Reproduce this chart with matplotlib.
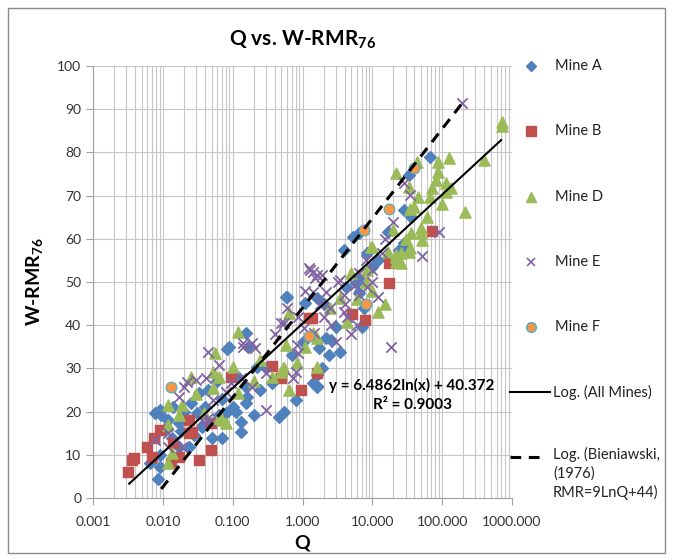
import numpy as np
import matplotlib
matplotlib.use("Agg")
import matplotlib.pyplot as plt
from matplotlib.lines import Line2D
from matplotlib.patches import Rectangle
from matplotlib.ticker import FixedLocator, FuncFormatter, LogLocator, NullFormatter

plt.rcParams["font.family"] = ["Lato", "DejaVu Sans"]
plt.rcParams["mathtext.fontset"] = "custom"
plt.rcParams["mathtext.rm"] = "Lato"
plt.rcParams["mathtext.bf"] = "Lato:bold"

# Data (Q, W-RMR76)
mine_a_q = [0.0085, 0.009, 0.009, 0.0065, 0.0076, 0.009, 0.0095, 0.011, 0.012, 0.0137, 0.017, 0.017,
            0.02, 0.024, 0.025, 0.028, 0.031, 0.036, 0.033, 0.045, 0.05, 0.06, 0.064, 0.071, 0.08,
            0.1, 0.12, 0.133, 0.133, 0.15, 0.157, 0.16, 0.084, 0.165, 0.157, 0.09, 0.22, 0.25, 0.3,
            0.36, 0.2, 0.46, 0.54, 0.7, 0.8, 1.0, 1.6, 1.6, 1.4, 1.6, 1.9, 2.4, 3.4, 1.7, 2.6, 2.2,
            3.0, 7.2, 7.6, 6.4, 5.8, 4.2, 0.6, 1.1, 1.6, 0.58, 2.0, 67, 28, 35.7, 33, 5.2, 6.4, 3.9,
            8.3, 12, 17, 10, 6.5, 28, 30, 24, 0.04, 0.07, 0.11, 0.018, 0.014]
mine_a_rmr = [4.5, 7.2, 10, 8, 19.7, 20.4, 19.2, 16.2, 18, 14, 11.8, 17.4,
              20, 11.8, 22, 14.5, 19.7, 16.4, 24.3, 25, 14, 27, 19.2, 14, 19.7,
              21, 28, 17.6, 15.3, 26, 22, 23.4, 34.5, 35, 38.2, 35, 30.4, 25, 30,
              26.6, 19.2, 18.8, 20, 33, 22.7, 36, 26, 25.7, 26.6, 28.5, 30, 33.1, 33.8, 34.7, 36.6, 37,
              39.6, 39.6, 44, 47.5, 49.8, 48.8, 46.5, 45.1, 46.3, 46.5, 45, 79, 66.7, 65, 74.8, 60.4, 61.3, 57.4,
              56.7, 55, 61.6, 53.5, 50.5, 59, 58.1, 57.4, 21, 23, 20, 15.5, 21]

mine_b_q = [0.0032, 0.0036, 0.0039, 0.006, 0.0069, 0.009, 0.0075, 0.0133, 0.0173, 0.024, 0.026,
            0.024, 0.033, 0.049, 0.049, 0.014, 0.096, 0.36, 0.5, 0.96, 1.6, 1.25, 1.35, 5.1, 7.9,
            17.3, 17.3, 71]
mine_b_rmr = [6, 8.8, 9.3, 11.8, 9.5, 15.7, 14, 8, 9.5, 15, 15.3,
              18, 8.8, 11, 17.4, 12.8, 28, 30.5, 27.8, 25, 29, 41.6, 41.7, 42.6, 41.2,
              49.8, 54.4, 61.8]

mine_d_q = [0.012, 0.0137, 0.012, 0.017, 0.012, 0.019, 0.025, 0.03, 0.039, 0.052, 0.064, 0.055,
            0.1, 0.12, 0.071, 0.08, 0.064, 0.052, 0.12, 0.2, 0.25, 0.36, 0.52, 0.5, 0.54, 0.58,
            0.64, 0.64, 0.83, 1.1, 1.4, 1.6, 1.6, 2.5, 3.4, 4.4, 5, 6, 8, 8.3, 9.5, 10, 10, 12, 15,
            17, 20, 21.6, 21.6, 22, 25.7, 25.7, 30, 33, 35, 35, 35.7, 40, 45, 50, 50, 51, 60, 67,
            71, 82, 88, 88, 100, 113, 115, 125, 133, 211, 394, 713, 713, 21.8, 33.4, 43.6]
mine_d_rmr = [8, 10.4, 17, 19.2, 21.5, 21.5, 28, 24, 19.7, 25.5, 28, 33.6,
              30.3, 38.4, 18, 17.4, 18.5, 29.2, 24.3, 27, 32, 28, 30, 29.2, 30, 35.4,
              42.8, 25, 31.2, 35, 38.2, 37, 30.3, 44, 46.3, 40.7, 52, 46, 50, 52.8, 58.1, 48, 58, 43, 45,
              57, 62, 56.2, 55.8, 54.6, 56.7, 54.4, 60, 57, 57.9, 67, 61.3, 67.4, 69.7, 61.3, 62.5, 59.7, 65, 69.7,
              71.8, 73.6, 77.8, 75.5, 68, 73, 70.8, 78.7, 71.8, 66.2, 78.2, 87, 86, 75.2, 72, 77.8]

mine_e_q = [0.0076, 0.012, 0.012, 0.016, 0.019, 0.017, 0.02, 0.022, 0.03, 0.036, 0.042, 0.044,
            0.044, 0.046, 0.052, 0.064, 0.08, 0.096, 0.13, 0.14, 0.14, 0.19, 0.19, 0.21, 0.3, 0.3,
            0.4, 0.5, 0.54, 0.6, 0.73, 0.8, 0.83, 0.85, 0.85, 1.06, 1.1, 1.25, 1.3, 1.4, 1.4, 1.45,
            1.5, 1.6, 1.8, 1.9, 2.0, 2.2, 2.5, 2.6, 3.0, 3.2, 3.4, 3.9, 3.9, 4.0, 4.4, 5.0, 5.6, 6.1,
            6.4, 6.4, 8.0, 8.5, 9.8, 10, 12.2, 13.7, 15, 18.5, 20, 28, 35, 50.7, 90, 191]
mine_e_rmr = [13.4, 11.8, 15, 13.4, 11.8, 23.4, 25.7, 26.9, 27.3, 18, 27.8, 33.8,
              18.5, 17.6, 22.7, 30.8, 24.5, 26.6, 27.8, 35, 35.9, 25.7, 35.9, 34.7, 20.4, 29,
              38, 40.5, 40.5, 44, 27.8, 29.2, 35.4, 41.9, 33.6, 39.4, 48, 53.2, 52.8, 47.7, 52.3, 38.2,
              51, 51.6, 45, 51.6, 42, 47.7, 44, 40, 36, 50, 50.5, 47, 43, 45, 41.9, 38, 49.3, 40,
              52, 47, 55, 48.8, 52.8, 50, 46.5, 56.7, 60, 35, 64, 73, 70.1, 56, 61.6, 91.4]

mine_f_q = [0.013, 1.25, 8.1, 7.6, 17.3, 39]
mine_f_rmr = [25.6, 37.5, 45, 62, 67, 76.5]

# trendlines
fit_a, fit_b = 6.4862, 40.372
bien_a, bien_b = 9.0, 44.0
fit_range = [0.0033, 700]
bien_range = [0.0095, 190]

W, H = 673, 560
fx = lambda px: px / W
fy = lambda py: 1 - py / H

fig = plt.figure(figsize=(W / 100, H / 100), dpi=100)
ax = fig.add_axes([fx(93), fy(498), fx(512) - fx(93), fy(66) - fy(498)])

blue, red, green, purple, orange = "#4F81BD", "#C0504D", "#9BBB59", "#8064A2", "#F79646"

ax.scatter(mine_a_q, mine_a_rmr, marker="D", s=36, color=blue, zorder=3)
ax.scatter(mine_b_q, mine_b_rmr, marker="s", s=60, color=red, zorder=3)
ax.scatter(mine_d_q, mine_d_rmr, marker="^", s=65, color=green, zorder=3)
ax.scatter(mine_e_q, mine_e_rmr, marker="x", s=55, color=purple, linewidths=1.3, zorder=3)
ax.scatter(mine_f_q, mine_f_rmr, marker="o", s=60, color=orange, edgecolors="#4BACC6",
           linewidths=0.8, zorder=3)

xs = np.logspace(np.log10(fit_range[0]), np.log10(fit_range[1]), 200)
ax.plot(xs, fit_a * np.log(xs) + fit_b, color="black", lw=1.5, zorder=4)
xs2 = np.logspace(np.log10(bien_range[0]), np.log10(bien_range[1]), 200)
ax.plot(xs2, bien_a * np.log(xs2) + bien_b, color="black", lw=2.2, ls=(0, (3.5, 2.5)), zorder=4)

ax.set_xscale("log")
ax.set_xlim(0.001, 1000)
ax.set_ylim(0, 100)
ax.xaxis.set_major_locator(LogLocator(base=10, numticks=10))
ax.xaxis.set_minor_locator(LogLocator(base=10, subs=np.arange(2, 10), numticks=20))
ax.xaxis.set_minor_formatter(NullFormatter())
ax.xaxis.set_major_formatter(FuncFormatter(lambda v, p: f"{v:.3f}"))
ax.yaxis.set_major_locator(FixedLocator(np.arange(0, 101, 10)))

ax.grid(True, which="major", axis="both", color="#c6c6c6", lw=0.8, zorder=0)
ax.grid(True, which="minor", axis="x", color="#c6c6c6", lw=0.8, zorder=0)
ax.set_axisbelow(True)
for s in ["top", "right"]:
    ax.spines[s].set_visible(False)
for s in ["left", "bottom"]:
    ax.spines[s].set_color("#a0a0a0")
ax.tick_params(axis="both", which="major", colors="#a0a0a0", labelcolor="#333333",
               labelsize=10, length=5, width=0.8)
ax.tick_params(axis="x", which="minor", length=0)
ax.tick_params(axis="x", pad=8)

fig.text(fx(303), fy(40), r"Q vs. W-RMR$_{\mathbf{76}}$", ha="center", va="center",
         fontsize=15, fontweight="bold")
fig.text(fx(35), fy(282), r"W-RMR$_{\mathbf{76}}$", ha="center", va="center",
         fontsize=14, fontweight="bold", rotation=90)
fig.text(fx(302), fy(543), "Q", ha="center", va="center", fontsize=14, fontweight="bold")

fig.text(fx(412), fy(385), "y = 6.4862ln(x) + 40.372", ha="center", va="center",
         fontsize=11, fontweight="bold")
fig.text(fx(412), fy(405), "R² = 0.9003", ha="center", va="center",
         fontsize=11, fontweight="bold")

# legend drawn by hand at the right
legend_rows = [
    ("Mine A", dict(marker="D", markersize=5, color=blue), 66),
    ("Mine B", dict(marker="s", markersize=7, color=red), 131),
    ("Mine D", dict(marker="^", markersize=7, color=green), 197),
    ("Mine E", dict(marker="x", markersize=6, color=purple, markeredgewidth=1.2), 262),
    ("Mine F", dict(marker="o", markersize=7, color=orange, markeredgecolor="#4BACC6"), 327),
]
for label, style, py in legend_rows:
    fig.add_artist(Line2D([fx(531)], [fy(py)], linestyle="none", transform=fig.transFigure, **style))
    fig.text(fx(555), fy(py), label, va="center", fontsize=10.5, color="#222222")

fig.add_artist(Line2D([fx(510), fx(550)], [fy(392), fy(392)], color="black", lw=1.5,
                      transform=fig.transFigure))
fig.text(fx(553), fy(392), "Log. (All Mines)", va="center", fontsize=10.5, color="#222222")
fig.add_artist(Line2D([fx(510), fx(544)], [fy(457), fy(457)], color="black", lw=2.2,
                      ls=(0, (3.5, 2.5)), transform=fig.transFigure))
fig.text(fx(553), fy(447), "Log. (Bieniawski,\n(1976)\nRMR=9LnQ+44)", va="top",
         fontsize=10.5, color="#222222", linespacing=1.35)

fig.add_artist(Rectangle((fx(8), fy(553)), fx(665) - fx(8), fy(8) - fy(553), fill=False,
                         edgecolor="#8a8a8a", lw=1, transform=fig.transFigure))

fig.savefig("out.png", dpi=100)
